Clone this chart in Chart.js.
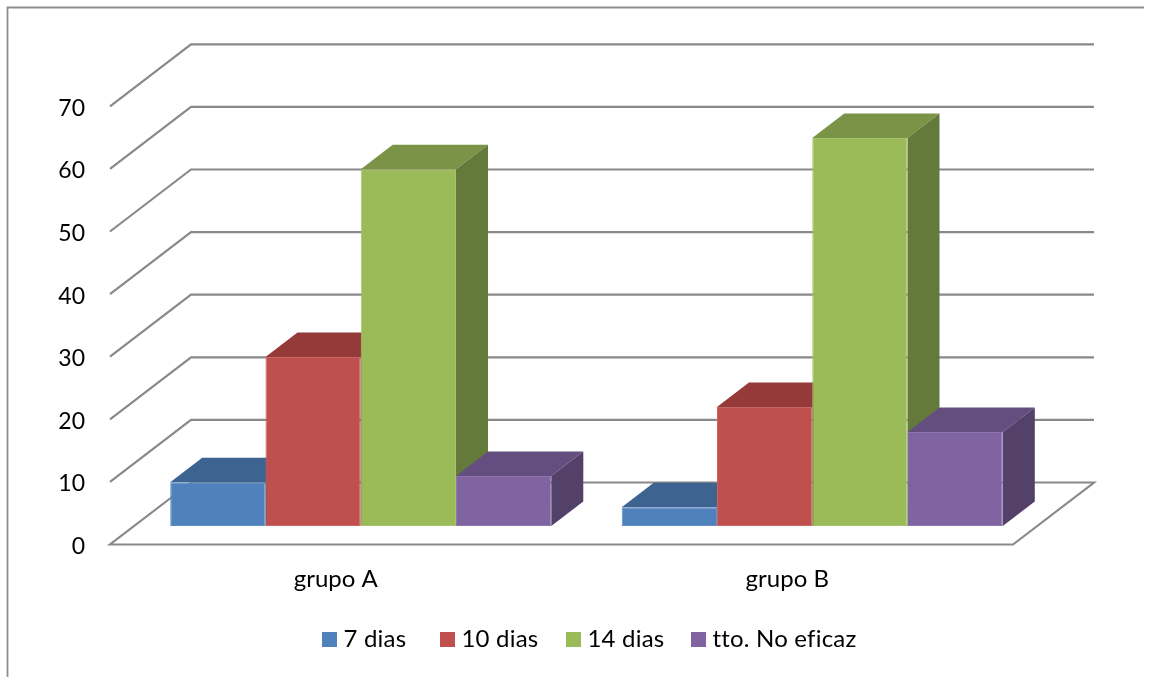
<!DOCTYPE html>
<html>
<head>
<meta charset="utf-8">
<style>
  html, body { margin: 0; padding: 0; background: #fff; }
  canvas { display: block; }
</style>
<script src="https://cdn.jsdelivr.net/npm/chart.js@4"></script>
</head>
<body>
<canvas id="chart" width="1153" height="677"></canvas>
<script>
const categories = ['grupo A', 'grupo B'];
const seriesNames = ['7 dias', '10 dias', '14 dias', 'tto. No eficaz'];
const dias7 = [7, 3];
const dias10 = [27, 19];
const dias14 = [57, 62];
const noEficaz = [8, 15];
const frontColors = ['#4F81BD', '#C0504D', '#9BBB59', '#8064A2'];
const edgeColors = ['#628EC4', '#C76663', '#A6C36E', '#8E76AC'];
const topColors = ['#3D6491', '#943B39', '#7A9346', '#644E80'];
const sideColors = ['#345579', '#7E3230', '#647A3A', '#534169'];

const FONT = 'Lato, Carlito, Calibri, sans-serif';
const GRID = '#898989';
// Projection of the box: wall offset, bar inset from the floor's front edge, bar depth.
const WALL = { x: 81, y: -62 };
const INSET = { x: 25, y: -18.5 };
const DEPTH = { x: 32, y: -24.5 };

function drawWalls(chart) {
  const { ctx, chartArea: a, scales: { y } } = chart;
  ctx.save();
  ctx.strokeStyle = GRID;
  ctx.lineWidth = 2.2;
  y.ticks.forEach(t => {
    const py = y.getPixelForValue(t.value);
    ctx.beginPath();
    ctx.moveTo(a.left, py);
    if (t.value === 0) {
      ctx.lineTo(a.right, py);
      ctx.lineTo(a.right + WALL.x, py + WALL.y);
      ctx.lineTo(a.left + WALL.x, py + WALL.y);
      ctx.closePath();
    } else {
      ctx.lineTo(a.left + WALL.x, py + WALL.y);
      ctx.lineTo(a.right + WALL.x, py + WALL.y);
    }
    ctx.stroke();
  });
  ctx.restore();
}

function drawBarFaces(chart, meta, i) {
  const { ctx } = chart;
  const base = chart.scales.y.getPixelForValue(0);
  meta.data.forEach(bar => {
    const l = bar.x - bar.width / 2, r = bar.x + bar.width / 2, t = bar.y;
    ctx.fillStyle = topColors[i];
    ctx.beginPath();
    ctx.moveTo(l, t);
    ctx.lineTo(l + DEPTH.x, t + DEPTH.y);
    ctx.lineTo(r + DEPTH.x, t + DEPTH.y);
    ctx.lineTo(r, t);
    ctx.closePath();
    ctx.fill();
    ctx.fillStyle = sideColors[i];
    ctx.beginPath();
    ctx.moveTo(r, t);
    ctx.lineTo(r + DEPTH.x, t + DEPTH.y);
    ctx.lineTo(r + DEPTH.x, base + DEPTH.y);
    ctx.lineTo(r, base);
    ctx.closePath();
    ctx.fill();
  });
}

const solidBars = {
  id: 'solidBars',
  beforeDatasetsDraw(chart) {
    const { ctx } = chart;
    drawWalls(chart);
    // Bars stand behind the floor's front edge; left-to-right painting keeps faces overlapping correctly.
    ctx.save();
    ctx.translate(INSET.x, INSET.y);
    chart.data.datasets.forEach((ds, i) => {
      const meta = chart.getDatasetMeta(i);
      drawBarFaces(chart, meta, i);
      meta.controller.draw();
    });
    ctx.restore();
    return false;
  }
};

const frameAndLegend = {
  id: 'frameAndLegend',
  afterDraw(chart) {
    const { ctx } = chart;
    ctx.save();
    ctx.strokeStyle = '#8E8E8E';
    ctx.lineWidth = 1.8;
    ctx.beginPath();
    ctx.moveTo(7.5, 677);
    ctx.lineTo(7.5, 7.5);
    ctx.lineTo(1144, 7.5);
    ctx.stroke();

    // Legend row under the plot.
    ctx.font = '24px ' + FONT;
    ctx.letterSpacing = '0.2px';
    ctx.textBaseline = 'middle';
    const BOX = 15, GAP = 6.5, midY = 639.5;
    const slots = [322, 440, 566, 691];
    seriesNames.forEach((n, i) => {
      ctx.fillStyle = frontColors[i];
      ctx.fillRect(slots[i], midY - BOX / 2, BOX, BOX);
      ctx.fillStyle = '#000';
      ctx.fillText(n, slots[i] + BOX + GAP, midY);
    });
    ctx.restore();
  }
};

const seriesValues = [dias7, dias10, dias14, noEficaz];

new Chart(document.getElementById('chart'), {
  type: 'bar',
  data: {
    labels: categories,
    datasets: seriesNames.map((name, i) => ({
      label: name,
      data: seriesValues[i],
      backgroundColor: frontColors[i],
      borderColor: edgeColors[i],
      borderWidth: 1,
      borderSkipped: false,
      categoryPercentage: 0.844,
      barPercentage: 1
    }))
  },
  options: {
    responsive: false,
    animation: false,
    events: [],
    layout: { padding: { left: 0, right: 140, top: 106.3, bottom: 0 } },
    plugins: { legend: { display: false }, tooltip: { enabled: false }, title: { display: false } },
    scales: {
      x: {
        offset: true,
        grid: { display: false },
        border: { display: false },
        ticks: { color: '#000', font: { family: FONT, size: 24 }, padding: 12, maxRotation: 0 },
        afterFit(s) { s.height = 132.5; }
      },
      y: {
        min: 0,
        max: 70,
        grid: { display: false },
        border: { display: false },
        ticks: { stepSize: 10, color: '#000', font: { family: FONT, size: 23 }, padding: 17, labelOffset: 2 },
        afterFit(s) { s.width = 110; }
      }
    }
  },
  plugins: [solidBars, frameAndLegend]
});
</script>
</body>
</html>
